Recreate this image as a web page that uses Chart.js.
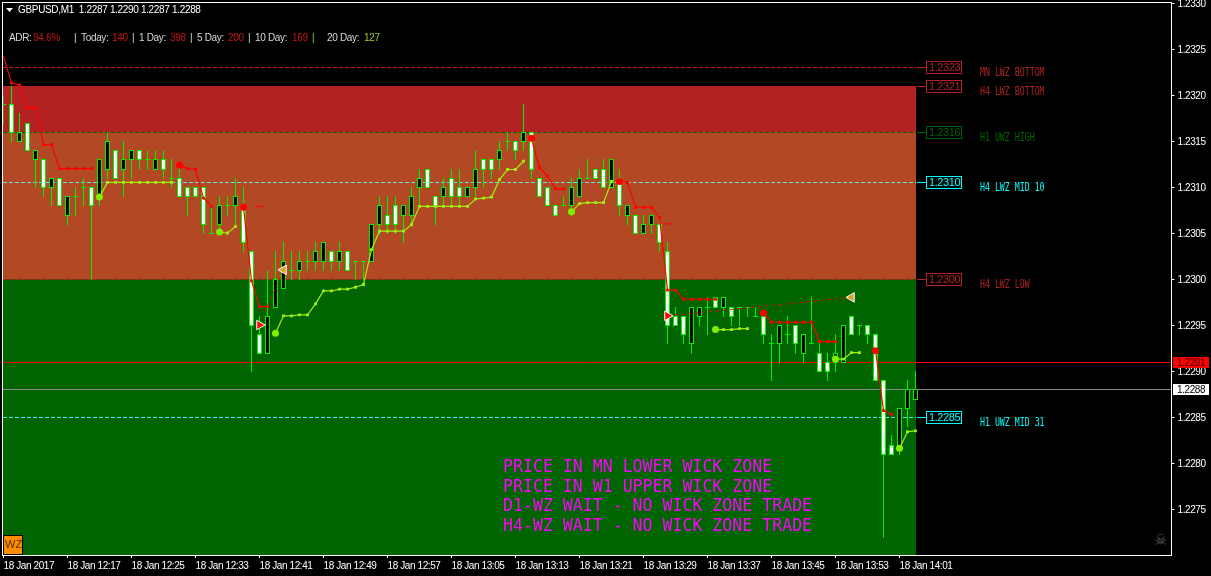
<!DOCTYPE html>
<html>
<head>
<meta charset="utf-8">
<title>GBPUSD,M1</title>
<script src="https://cdn.jsdelivr.net/npm/chart.js@4"></script>
<style>
  html, body { margin: 0; background: #000; overflow: hidden; }
  canvas { display: block; }
</style>
</head>
<body>
<canvas id="chart" width="1211" height="576"></canvas>
<script>
const _ = null;

// Time axis: one tick label every 8 bars, 146 slots wide
const xTickLabels = ['18 Jan 2017', '18 Jan 12:17', '18 Jan 12:25', '18 Jan 12:33', '18 Jan 12:41', '18 Jan 12:49', '18 Jan 12:57', '18 Jan 13:05', '18 Jan 13:13', '18 Jan 13:21', '18 Jan 13:29', '18 Jan 13:37', '18 Jan 13:45', '18 Jan 13:53', '18 Jan 14:01'];
const yTicks = [1.2330, 1.2325, 1.2320, 1.2315, 1.2310, 1.2305, 1.2300, 1.2295, 1.2290, 1.2285, 1.2280, 1.2275];

// Candles (white = down, black = up)
const opens = [
  1.2319, 1.2319, 1.2315, 1.2317, 1.2313, 1.2313, 1.2310, 1.2311, 1.2307, 1.2309,
  1.2310, 1.2310, 1.2309, 1.2312, 1.2314, 1.2312, 1.2313, 1.2314, 1.2313, 1.2312,
  1.2313, 1.2311, 1.2311, 1.2310, 1.2310, 1.2310, 1.2305, 1.2306, 1.2308, 1.2308,
  1.2308, 1.2303, 1.2294, 1.2292, 1.2297, 1.2299, 1.2301, 1.2301, 1.2302, 1.2302,
  1.2302, 1.2303, 1.2302, 1.2303, 1.2302, 1.2302, 1.2302, 1.2306, 1.2307, 1.2308,
  1.2307, 1.2307, 1.2310, 1.2312, 1.2309, 1.2309, 1.2311, 1.2310, 1.2309, 1.2310,
  1.2313, 1.2313, 1.2313, 1.2315, 1.2315, 1.2315, 1.2316, 1.2311, 1.2310, 1.2308,
  1.2308, 1.2308, 1.2309, 1.2311, 1.2312, 1.2312, 1.2310, 1.2311, 1.2307, 1.2307,
  1.2305, 1.2306, 1.2306, 1.2303, 1.2296, 1.2296, 1.2293, 1.2296, 1.2297, 1.2298,
  1.2297, 1.2297, 1.2297, 1.2297, 1.2296, 1.2296, 1.2293, 1.2293, 1.2294, 1.2295,
  1.2292, 1.2293, 1.2292, 1.2291, 1.2291, 1.2291, 1.2296, 1.2295, 1.2295, 1.2294,
  1.2289, 1.2282, 1.2282, 1.2286, 1.2287
];
const closes = [
  1.2319, 1.2316, 1.2316, 1.2314, 1.2314, 1.2310, 1.2311, 1.2308, 1.2309, 1.2309,
  1.2310, 1.2308, 1.2313, 1.2315, 1.2311, 1.2313, 1.2314, 1.2313, 1.2313, 1.2313,
  1.2312, 1.2311, 1.2309, 1.2309, 1.2309, 1.2306, 1.2305, 1.2308, 1.2308, 1.2309,
  1.2304, 1.2295, 1.2292, 1.2296, 1.2300, 1.2302, 1.2301, 1.2302, 1.2302, 1.2303,
  1.2304, 1.2302, 1.2303, 1.2301, 1.2302, 1.2302, 1.2306, 1.2308, 1.2306, 1.2306,
  1.2308, 1.2309, 1.2311, 1.2310, 1.2308, 1.2310, 1.2309, 1.2309, 1.2310, 1.2312,
  1.2312, 1.2312, 1.2314, 1.2315, 1.2314, 1.2316, 1.2312, 1.2309, 1.2308, 1.2307,
  1.2308, 1.2310, 1.2311, 1.2311, 1.2311, 1.2310, 1.2313, 1.2308, 1.2308, 1.2305,
  1.2306, 1.2307, 1.2304, 1.2295, 1.2295, 1.2294, 1.2297, 1.2297, 1.2297, 1.2297,
  1.2298, 1.2296, 1.2297, 1.2297, 1.2296, 1.2294, 1.2293, 1.2295, 1.2294, 1.2293,
  1.2294, 1.2293, 1.2290, 1.2290, 1.2292, 1.2295, 1.2294, 1.2295, 1.2294, 1.2289,
  1.2281, 1.2281, 1.2286, 1.2288, 1.2288
];
const highs = [
  1.2320, 1.2321, 1.2318, 1.2317, 1.2314, 1.2313, 1.2311, 1.2311, 1.2309, 1.2310,
  1.2311, 1.2310, 1.2313, 1.2316, 1.2314, 1.2315, 1.2314, 1.2314, 1.2314, 1.2314,
  1.2314, 1.2313, 1.2312, 1.2310, 1.2310, 1.2310, 1.2308, 1.2309, 1.2309, 1.2311,
  1.2310, 1.2303, 1.2296, 1.2301, 1.2303, 1.2304, 1.2303, 1.2303, 1.2303, 1.2304,
  1.2304, 1.2303, 1.2304, 1.2303, 1.2302, 1.2302, 1.2306, 1.2309, 1.2309, 1.2309,
  1.2308, 1.2310, 1.2312, 1.2312, 1.2309, 1.2311, 1.2312, 1.2312, 1.2310, 1.2314,
  1.2313, 1.2313, 1.2315, 1.2316, 1.2315, 1.2319, 1.2316, 1.2311, 1.2310, 1.2308,
  1.2309, 1.2311, 1.2312, 1.2313, 1.2312, 1.2313, 1.2313, 1.2312, 1.2308, 1.2307,
  1.2307, 1.2307, 1.2307, 1.2304, 1.2297, 1.2296, 1.2297, 1.2297, 1.2298, 1.2298,
  1.2298, 1.2297, 1.2297, 1.2297, 1.2297, 1.2296, 1.2294, 1.2295, 1.2296, 1.2295,
  1.2294, 1.2298, 1.2293, 1.2292, 1.2294, 1.2295, 1.2296, 1.2295, 1.2295, 1.2294,
  1.2289, 1.2283, 1.2286, 1.2289, 1.2290
];
const lows = [
  1.2317, 1.2315, 1.2315, 1.2314, 1.2310, 1.2309, 1.2308, 1.2308, 1.2306, 1.2307,
  1.2308, 1.2300, 1.2308, 1.2311, 1.2311, 1.2309, 1.2311, 1.2312, 1.2312, 1.2312,
  1.2311, 1.2310, 1.2309, 1.2307, 1.2309, 1.2305, 1.2305, 1.2305, 1.2307, 1.2306,
  1.2303, 1.2290, 1.2292, 1.2292, 1.2297, 1.2299, 1.2300, 1.2300, 1.2301, 1.2301,
  1.2301, 1.2301, 1.2301, 1.2301, 1.2300, 1.2300, 1.2302, 1.2305, 1.2305, 1.2305,
  1.2304, 1.2306, 1.2308, 1.2310, 1.2306, 1.2308, 1.2308, 1.2308, 1.2309, 1.2309,
  1.2310, 1.2311, 1.2312, 1.2314, 1.2313, 1.2314, 1.2311, 1.2309, 1.2308, 1.2307,
  1.2308, 1.2307, 1.2309, 1.2311, 1.2311, 1.2310, 1.2310, 1.2307, 1.2306, 1.2305,
  1.2305, 1.2305, 1.2303, 1.2293, 1.2295, 1.2293, 1.2292, 1.2295, 1.2294, 1.2297,
  1.2296, 1.2295, 1.2295, 1.2296, 1.2296, 1.2293, 1.2289, 1.2291, 1.2293, 1.2292,
  1.2291, 1.2293, 1.2290, 1.2289, 1.2290, 1.2291, 1.2294, 1.2294, 1.2293, 1.2289,
  1.2272, 1.2281, 1.2281, 1.2284, 1.2287
];

// Stepped trail lines, null between runs; a run starts with a big dot
const redTrail = [
  1.23242, 1.23213, 1.23211, 1.23186, 1.23186, 1.23146, 1.23146, 1.2312, 1.2312, 1.2312,
  1.2312, 1.2312, _, _, _, _, _, _, _, _,
  _, _, 1.23124, 1.2312, 1.23119, 1.23088, 1.23079, _, _, _,
  1.23078, 1.22998, 1.2297, 1.2297, _, _, _, _, _, _,
  _, _, _, _, _, _, _, _, _, _,
  _, _, _, _, _, _, _, _, _, _,
  _, _, _, _, _, _, 1.23153, 1.23121, 1.23112, 1.23098,
  1.23098, _, _, _, _, _, _, 1.23106, 1.23105, 1.23078,
  1.23078, 1.23078, 1.23067, 1.22988, 1.22988, 1.22978, 1.22978, 1.22978, 1.22978, 1.22978,
  _, _, _, _, _, 1.22963, 1.22953, 1.22953, 1.22953, 1.22953,
  1.22953, 1.22953, 1.22932, 1.22932, 1.22932, _, _, _, _, 1.22922,
  1.22857, 1.22853, _, _, _
];
const greenTrail = [
  _, _, _, _, _, _, _, _, _, _,
  _, _, 1.23089, 1.23105, 1.23105, 1.23105, 1.23105, 1.23105, 1.23105, 1.23105,
  1.23105, 1.23105, _, _, _, _, _, 1.23051, 1.2305, 1.23057,
  _, _, _, _, 1.22941, 1.2296, 1.2296, 1.22961, 1.22961, 1.22973,
  1.22987, 1.22987, 1.22989, 1.22989, 1.22991, 1.22994, 1.23032, 1.23052, 1.23052, 1.23052,
  1.23052, 1.23059, 1.23079, 1.23079, 1.23079, 1.23079, 1.23079, 1.23079, 1.23079, 1.23087,
  1.23088, 1.23089, 1.23108, 1.23119, 1.23119, 1.23128, _, _, _, _,
  _, 1.23073, 1.23082, 1.23083, 1.23083, 1.23083, 1.23106, _, _, _,
  _, _, _, _, _, _, _, _, _, 1.22945,
  1.22945, 1.22945, 1.22946, 1.22946, _, _, _, _, _, _,
  _, _, _, _, 1.22913, 1.22913, 1.2292, 1.2292, _, _,
  _, _, 1.22816, 1.22834, 1.22835
];

// Short red stubs and the two trades (entry arrow -> exit triangle)
const stubBars = [32, 83];
const stubPrices = [1.23079, 1.2306];
const tradeBars = [[32, 35], [83, 106]];
const tradePrices = [[1.2295, 1.2301], [1.2296, 1.2298]];

// Zones behind the candles
const zoneTops = [1.2321, 1.2316, 1.2300];
const zoneBottoms = [1.2316, 1.2300, 1.2270];
const zoneColors = ['#b22222', '#b24824', '#006400'];
const zoneLastBar = 114;

// Dashed levels with their boxes and names on the right
const levelPrices = [1.2323, 1.2321, 1.2316, 1.23105, 1.2300, 1.2285];
const levelBoxes = ['1.2323', '1.2321', '1.2316', '1.2310', '1.2300', '1.2285'];
const levelNames = ['MN LWZ BOTTOM', 'H4 LWZ BOTTOM', 'H1 UWZ HIGH', 'H4 LWZ MID 10', 'H4 LWZ LOW', 'H1 UWZ MID 31'];
const levelColors = ['#b22222', '#b22222', '#006400', '#00ffff', '#b22222', '#00ffff'];
const levelDashColors = ['#c81e1e', '#b22222', '#006400', '#70dce0', '#b22222', '#40f0f0'];
const redLine = 1.2291;
const greyLine = 1.2288;

const headerText = 'GBPUSD,M1  1.2287 1.2290 1.2287 1.2288';
const adrParts = [
  ['ADR:', 9, '#d8d8d8'], ['94.6%', 33, '#c81414'], ['|', 74, '#d8d8d8'],
  ['Today:', 81, '#d8d8d8'], ['140', 112, '#c81414'], ['|', 132, '#d8d8d8'],
  ['1 Day:', 139, '#d8d8d8'], ['398', 170, '#c81414'], ['|', 190, '#d8d8d8'],
  ['5 Day:', 197, '#d8d8d8'], ['200', 228, '#c81414'], ['|', 248, '#d8d8d8'],
  ['10 Day:', 255, '#d8d8d8'], ['169', 292, '#c81414'], ['|', 312, '#9acd32'],
  ['20 Day:', 327, '#d8d8d8'], ['127', 364, '#9acd32']
];
const zoneMessages = ['PRICE IN MN LOWER WICK ZONE', 'PRICE IN W1 UPPER WICK ZONE', 'D1-WZ WAIT - NO WICK ZONE TRADE', 'H4-WZ WAIT - NO WICK ZONE TRADE'];

const candleGreen = '#00f000';
const trailGreen = '#a0f010';
const dotGreen = '#80f000';
const uiFont = '"Liberation Sans"';
const monoFont = '"DejaVu Sans Mono"';

// Category slots: 3.5 + 8px per bar, labelled only where MT4 has a tick
const categories = new Array(147).fill('');
xTickLabels.forEach((label, i) => { categories[i * 8] = label; });

function sparse(bars, prices) {
  const out = new Array(115).fill(null);
  bars.forEach((bar, i) => { out[bar] = prices[i]; });
  return out;
}

function text(ctx, str, x, y, font, color, stretch = 1) {
  ctx.save();
  ctx.font = font;
  ctx.fillStyle = color;
  ctx.textBaseline = 'middle';
  ctx.translate(x, y);
  ctx.scale(stretch, 1);
  ctx.fillText(str, 0, 0);
  ctx.restore();
}

// Snap bars to whole pixel rows, both end rows included like MT4 does
const crispBars = {
  id: 'crispBars',
  afterDatasetsUpdate(chart) {
    chart.data.datasets.forEach((ds, i) => {
      if (ds.type !== 'bar') return;
      chart.getDatasetMeta(i).data.forEach(el => {
        const top = Math.round(Math.min(el.y, el.base));
        const bottom = Math.round(Math.max(el.y, el.base)) + 1;
        el.y = top;
        el.base = bottom;
      });
    });
  }
};

// Zones and level lines go under the candles
const backdrop = {
  id: 'backdrop',
  beforeDraw(chart) {
    chart.ctx.letterSpacing = '-0.4px';
  },
  beforeDatasetsDraw(chart) {
    const { ctx, chartArea: area, scales: { x, y } } = chart;
    const row = v => Math.round(y.getPixelForValue(v)) + 0.5;
    const zoneRight = x.getPixelForValue(zoneLastBar) + 0.5;

    zoneTops.forEach((top, i) => {
      const y0 = Math.round(y.getPixelForValue(top));
      const y1 = Math.round(y.getPixelForValue(zoneBottoms[i]));
      ctx.fillStyle = zoneColors[i];
      ctx.fillRect(area.left - 0.5, y0, zoneRight - area.left + 0.5, y1 - y0);
    });

    ctx.lineWidth = 1;
    levelPrices.forEach((price, i) => {
      ctx.strokeStyle = levelDashColors[i];
      ctx.setLineDash([4, 2]);
      ctx.beginPath();
      ctx.moveTo(area.left - 0.5, row(price));
      ctx.lineTo(zoneRight, row(price));
      ctx.stroke();
    });
    ctx.setLineDash([]);

    ctx.strokeStyle = '#ff0000';
    ctx.beginPath();
    ctx.moveTo(area.left - 0.5, row(redLine));
    ctx.lineTo(area.right, row(redLine));
    ctx.stroke();
    ctx.strokeStyle = '#8c8c8c';
    ctx.beginPath();
    ctx.moveTo(area.left - 0.5, row(greyLine));
    ctx.lineTo(area.right, row(greyLine));
    ctx.stroke();
  }
};

// Frame, boxes and all the free text
const overlay = {
  id: 'overlay',
  afterDraw(chart) {
    const { ctx, chartArea: area, scales: { x, y } } = chart;
    const row = v => Math.round(y.getPixelForValue(v)) + 0.5;
    const zoneRight = x.getPixelForValue(zoneLastBar) + 0.5;

    ctx.strokeStyle = '#ffffff';
    ctx.lineWidth = 1;
    ctx.strokeRect(area.left - 1, 2.5, area.right - area.left + 1, area.bottom - 2);

    levelPrices.forEach((price, i) => {
      const ly = row(price);
      ctx.strokeStyle = levelColors[i];
      ctx.beginPath();
      ctx.moveTo(zoneRight + 1, ly);
      ctx.lineTo(926.5, ly);
      ctx.stroke();
      ctx.strokeRect(926.5, ly - 6, 35, 12);
      text(ctx, levelBoxes[i], 929, ly + 0.5, '11px ' + uiFont, levelColors[i]);
      ctx.letterSpacing = '0px';
      text(ctx, levelNames[i], 980, ly + 5.5, '12.5px ' + monoFont, levelColors[i], 0.66);
      ctx.letterSpacing = '-0.4px';
    });

    // Current price tags on the axis
    ctx.fillStyle = '#ff0000';
    ctx.fillRect(1173, row(redLine) - 5.5, 36, 11);
    text(ctx, '1.2291', 1177, row(redLine) + 0.5, '10px ' + uiFont, '#300000');
    ctx.fillStyle = '#ffffff';
    ctx.fillRect(1173, row(greyLine) - 5.5, 36, 11);
    text(ctx, '1.2288', 1177, row(greyLine) + 0.5, '10px ' + uiFont, '#000000');

    // Header
    ctx.fillStyle = '#ffffff';
    ctx.beginPath();
    ctx.moveTo(6, 8);
    ctx.lineTo(13, 8);
    ctx.lineTo(9.5, 12);
    ctx.closePath();
    ctx.fill();
    ctx.letterSpacing = '-0.33px';
    text(ctx, headerText, 18, 10.5, '10px ' + uiFont, '#ffffff');
    adrParts.forEach(p => text(ctx, p[0], p[1], 38.5, '10px ' + uiFont, p[2]));

    ctx.letterSpacing = '0px';
    zoneMessages.forEach((msg, i) => {
      text(ctx, msg, 503, 467 + i * 19.9, '18px ' + monoFont, '#ff00ff', 0.92);
    });

    // WZ button and skull
    ctx.fillStyle = '#ff8c00';
    ctx.fillRect(3, 535, 19, 19);
    ctx.strokeStyle = '#000000';
    ctx.strokeRect(3.5, 535.5, 19, 19);
    text(ctx, 'WZ', 5, 545, '11px ' + uiFont, '#5a2d00');
    text(ctx, '\u2620', 1154, 541, '15px "DejaVu Sans"', '#5a5a5a');
  }
};

new Chart(document.getElementById('chart'), {
  type: 'bar',
  data: {
    labels: categories,
    datasets: [
      {
        type: 'bar', label: 'Wicks', order: 4, grouped: false,
        data: lows.map((l, i) => [l, highs[i]]),
        backgroundColor: candleGreen, borderWidth: 0, barThickness: 1, inflateAmount: 0
      },
      {
        type: 'bar', label: 'Bodies', order: 3, grouped: false,
        data: opens.map((o, i) => [o, closes[i]]),
        backgroundColor: opens.map((o, i) => (closes[i] >= o ? '#000000' : '#ffffff')),
        borderColor: candleGreen, borderWidth: 1, borderSkipped: false, barThickness: 5, inflateAmount: 0
      },
      {
        type: 'line', label: 'Red trail', order: 2, data: redTrail,
        borderColor: '#ff0000', backgroundColor: '#ff0000', borderWidth: 1.2, tension: 0,
        pointStyle: c => (c.dataIndex > 0 && redTrail[c.dataIndex - 1] === null ? 'circle' : 'rect'),
        pointRadius: c => (c.dataIndex > 0 && redTrail[c.dataIndex - 1] === null ? 3.5 : c.dataIndex === 0 ? 0 : 2),
        pointBorderWidth: 0
      },
      {
        type: 'line', label: 'Green trail', order: 2, data: greenTrail,
        borderColor: trailGreen, borderWidth: 1.2, tension: 0,
        pointBackgroundColor: c => (greenTrail[c.dataIndex - 1] === null ? dotGreen : trailGreen),
        pointStyle: c => (greenTrail[c.dataIndex - 1] === null ? 'circle' : 'rect'),
        pointRadius: c => (greenTrail[c.dataIndex - 1] === null ? 3.5 : 2),
        pointBorderWidth: 0
      },
      {
        type: 'line', label: 'Stubs', order: 2, showLine: false, data: sparse(stubBars, stubPrices),
        pointStyle: 'line', pointRadius: 4, pointBorderColor: '#ff0000', pointBorderWidth: 1
      },
      ...tradeBars.map((bars, t) => ({
        type: 'line', label: 'Trade ' + (t + 1), order: 1, spanGaps: true,
        data: sparse(bars, tradePrices[t]),
        borderColor: '#ff0000', borderWidth: 1, borderDash: [3, 4], tension: 0,
        pointStyle: 'triangle',
        pointRotation: c => (c.dataIndex === bars[0] ? 90 : -90),
        pointRadius: 5.5,
        pointBackgroundColor: c => (c.dataIndex === bars[0] ? '#ff0000' : '#e0a030'),
        pointBorderColor: '#ffffff', pointBorderWidth: 1
      }))
    ]
  },
  plugins: [crispBars, backdrop, overlay],
  options: {
    responsive: false,
    animation: false,
    layout: { autoPadding: false, padding: { left: 3.5, top: 3, right: 0, bottom: 0 } },
    plugins: { legend: { display: false }, tooltip: { enabled: false } },
    scales: {
      x: {
        type: 'category', offset: false,
        grid: { offset: false, drawOnChartArea: false, drawTicks: true, tickLength: 3, color: '#ffffff' },
        border: { display: false },
        afterBuildTicks: s => { s.ticks = xTickLabels.map((l, i) => ({ value: i * 8 })); },
        afterFit: s => { s.height = 21; s.paddingLeft = 0; s.paddingRight = 0; },
        ticks: { autoSkip: false, maxRotation: 0, align: 'start', padding: 2, color: '#ffffff', font: { family: 'Liberation Sans', size: 10 } }
      },
      y: {
        position: 'right', min: 1.2270, max: 1.2330,
        grid: { drawOnChartArea: false, drawTicks: true, tickLength: 3, color: '#ffffff' },
        border: { display: false },
        afterBuildTicks: s => { s.ticks = yTicks.map(v => ({ value: v })); },
        afterFit: s => { s.width = 39.5; s.paddingTop = 0; s.paddingBottom = 0; },
        ticks: { padding: 3, labelOffset: 1, color: '#ffffff', font: { family: 'Liberation Sans', size: 10 }, callback: v => v.toFixed(4) }
      }
    }
  }
});
</script>
</body>
</html>
